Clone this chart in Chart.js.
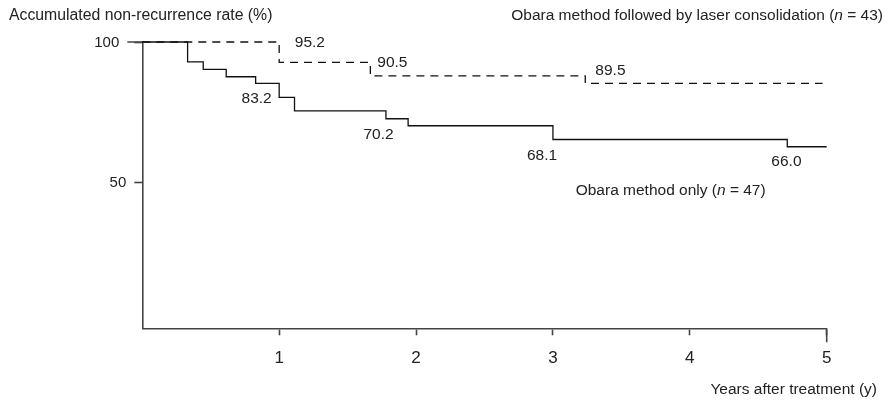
<!DOCTYPE html>
<html>
<head>
<meta charset="utf-8">
<script src="https://cdn.jsdelivr.net/npm/chart.js@4.4.1/dist/chart.umd.min.js"></script>
<style>
  html, body { margin: 0; padding: 0; background: #fff; }
  #wrap { width: 890px; height: 403px; position: relative; }
</style>
</head>
<body>
<div id="wrap"><canvas id="c"></canvas></div>
<script>
// ---- data ----
const yearsObaraOnly = [0, 0.331, 0.445, 0.613, 0.828, 1.0, 1.112, 1.78, 1.942, 3.0, 4.712, 5.0];
const rateObaraOnly  = [100, 92.9, 90.25, 87.6, 85.2, 80.2, 75.4, 72.6, 70.1, 65.2, 62.6, 62.6];

const yearsLaser = [0, 1.0, 1.666, 3.236, 4.97];
const rateLaser  = [100, 92.75, 87.9, 85.25, 85.25];

const xTickValues = [1, 2, 3, 4, 5];
const yTickValues = [50, 100];

const valueLabelTexts = ['95.2', '90.5', '89.5', '83.2', '70.2', '68.1', '66.0'];
const valueLabelYears = [1.224, 1.827, 3.42, 0.835, 1.726, 2.92, 4.706];
const valueLabelRates = [99.6, 92.75, 89.75, 79.64, 67.04, 59.29, 57.14];

const seriesNameOnly  = ['Obara method only (', 'n', ' = 47)'];
const seriesNameLaser = ['Obara method followed by laser consolidation (', 'n', ' = 43)'];
const yTitle = 'Accumulated non-recurrence rate (%)';
const xTitle = 'Years after treatment (y)';

// ---- drawing ----
const FONT = "'Liberation Sans', Arial, Helvetica, sans-serif";
const TXT = '#222';
const AX = '#444';
const Y_TICK = 8, Y_TICK_TOP = 15, Y_LABEL_PAD = 8;

function toPoints(xs, ys) { return xs.map((v, i) => ({ x: v, y: ys[i] })); }

function drawMixed(ctx, parts, x, y, align, size) {
  const fonts = [`${size}px ${FONT}`, `italic ${size}px ${FONT}`, `${size}px ${FONT}`];
  const widths = parts.map((p, i) => { ctx.font = fonts[i]; return ctx.measureText(p).width; });
  const total = widths.reduce((a, b) => a + b, 0);
  let cx = align === 'right' ? x - total : (align === 'center' ? x - total / 2 : x);
  ctx.textAlign = 'left';
  parts.forEach((p, i) => { ctx.font = fonts[i]; ctx.fillText(p, cx, y); cx += widths[i]; });
}

const textPlugin = {
  id: 'texts',
  afterDraw(chart) {
    const { ctx, chartArea, scales: { x, y } } = chart;
    ctx.save();
    ctx.fillStyle = TXT;
    ctx.textBaseline = 'middle';
    // y tick labels (top tick is longer, so its label sits further left)
    const yMax = yTickValues[yTickValues.length - 1];
    ctx.font = `15px ${FONT}`;
    ctx.textAlign = 'right';
    yTickValues.forEach(v => {
      const len = v === yMax ? Y_TICK_TOP : Y_TICK;
      ctx.fillText(String(v), chartArea.left - len - Y_LABEL_PAD, y.getPixelForValue(v) + 0.5);
    });
    // value labels
    ctx.font = `15.5px ${FONT}`;
    ctx.textAlign = 'center';
    valueLabelTexts.forEach((t, i) => {
      ctx.fillText(t, x.getPixelForValue(valueLabelYears[i]), y.getPixelForValue(valueLabelRates[i]));
    });
    // series names
    drawMixed(ctx, seriesNameOnly, x.getPixelForValue(3.86), y.getPixelForValue(46.9), 'center', 15.5);
    drawMixed(ctx, seriesNameLaser, chart.width - 7, 16, 'right', 15.5);
    // axis titles
    ctx.font = `15.8px ${FONT}`;
    ctx.textAlign = 'left';
    ctx.fillText(yTitle, 9, 15.5);
    ctx.font = `15.5px ${FONT}`;
    ctx.textAlign = 'right';
    ctx.fillText(xTitle, chart.width - 13, 390);
    // longer end ticks
    ctx.strokeStyle = AX;
    ctx.lineWidth = 1.6;
    ctx.beginPath();
    const x5 = x.getPixelForValue(xTickValues[xTickValues.length - 1]);
    ctx.moveTo(x5, chartArea.bottom);
    ctx.lineTo(x5, chartArea.bottom + 14);
    const yTop = y.getPixelForValue(yMax);
    ctx.moveTo(chartArea.left - Y_TICK_TOP, yTop);
    ctx.lineTo(chartArea.left, yTop);
    ctx.stroke();
    ctx.restore();
  }
};

new Chart(document.getElementById('c'), {
  type: 'line',
  data: {
    datasets: [
      {
        label: 'Obara method followed by laser consolidation',
        data: toPoints(yearsLaser, rateLaser),
        stepped: 'before',
        borderColor: '#111',
        borderWidth: 1.3,
        borderDash: [8, 6],
        pointRadius: 0,
        fill: false,
        clip: false
      },
      {
        label: 'Obara method only',
        data: toPoints(yearsObaraOnly, rateObaraOnly),
        stepped: 'before',
        borderColor: '#111',
        borderWidth: 1.3,
        pointRadius: 0,
        fill: false,
        clip: false
      }
    ]
  },
  options: {
    responsive: true,
    maintainAspectRatio: false,
    animation: false,
    events: [],
    layout: { padding: { left: 0, top: 42, right: 63.3, bottom: 34.7 } },
    plugins: { legend: { display: false }, tooltip: { enabled: false }, title: { display: false } },
    scales: {
      x: {
        type: 'linear',
        min: 0, max: 5,
        afterBuildTicks: (s) => { s.ticks = xTickValues.map(v => ({ value: v })); },
        afterFit: (s) => { s.height = 40; },
        grid: { drawOnChartArea: false, drawTicks: true, tickLength: 7, color: AX, tickWidth: 1.6 },
        border: { display: true, color: AX, width: 1.6 },
        ticks: { color: TXT, font: { family: FONT, size: 17 }, padding: 13, maxRotation: 0 }
      },
      y: {
        type: 'linear',
        min: -2.2, max: 100,
        afterBuildTicks: (s) => { s.ticks = yTickValues.map(v => ({ value: v })); },
        afterFit: (s) => { s.width = 142.3; },
        grid: { drawOnChartArea: false, drawTicks: true, tickLength: Y_TICK, color: AX, tickWidth: 1.6 },
        border: { display: true, color: AX, width: 1.6 },
        ticks: { display: false }
      }
    }
  },
  plugins: [textPlugin]
});
</script>
</body>
</html>
